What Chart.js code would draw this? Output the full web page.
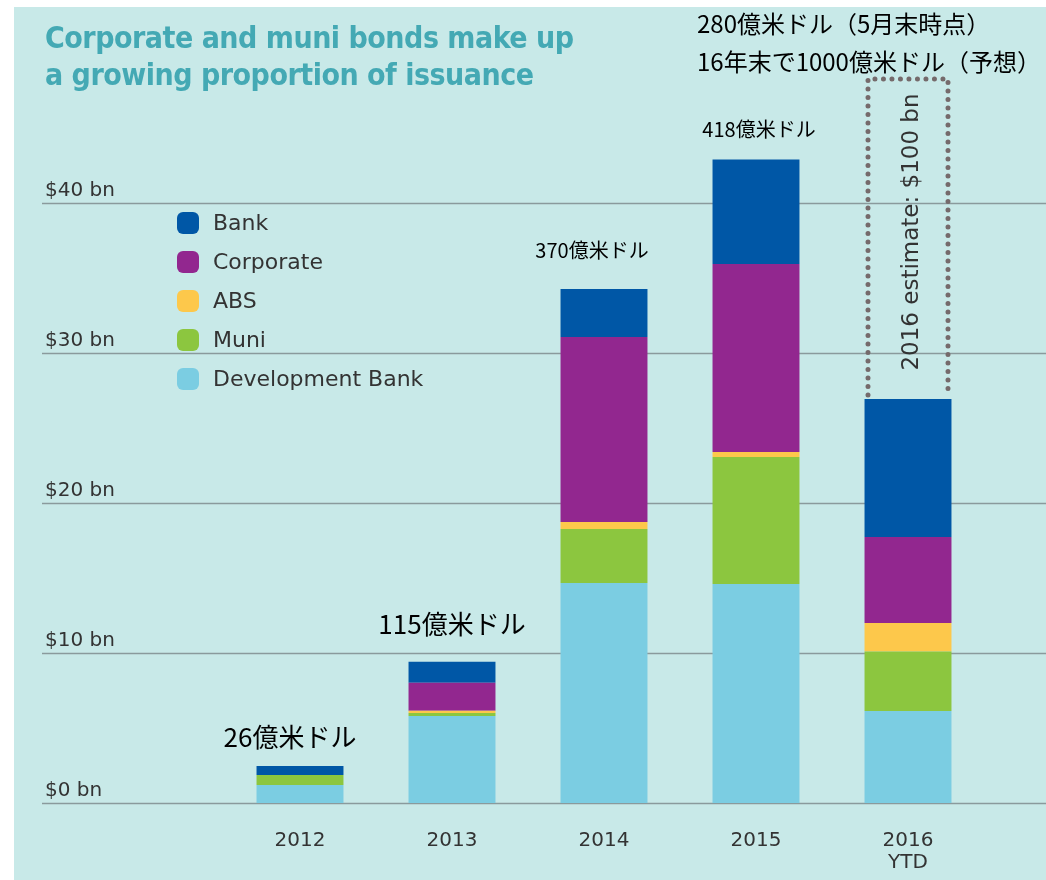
<!DOCTYPE html>
<html>
<head>
<meta charset="utf-8">
<script src="https://cdn.jsdelivr.net/npm/chart.js@4"></script>
<style>
  html, body { margin: 0; padding: 0; background: #fff; }
  #wrap { position: relative; width: 1046px; height: 880px; overflow: hidden; }
  #panel { position: absolute; left: 14px; top: 7px; right: 0; bottom: 0; background: #c8e9e8; }
  #chart { position: absolute; left: 0; top: 0; }
  .title { position: absolute; left: 45px; top: 19px; font-family: "DejaVu Sans Condensed", "DejaVu Sans", sans-serif;
    font-stretch: condensed; font-weight: bold; font-size: 30px; line-height: 37px; color: #44a9b4; letter-spacing: -0.5px; }
  .note { position: absolute; font-family: "Noto Sans CJK JP", sans-serif; color: #000; white-space: nowrap;
    transform: translate(-50%, -50%); }
  .note.left { transform: translate(0, -50%); }
  #legend { position: absolute; left: 177px; top: 203px; font-family: "DejaVu Sans", sans-serif; font-size: 22px; color: #333; }
  #legend div { height: 39px; line-height: 39px; white-space: nowrap; }
  #legend span { display: inline-block; width: 22px; height: 22px; border-radius: 6px; margin-right: 14px; vertical-align: -4px; }
</style>
</head>
<body>
<div id="wrap">
  <div id="panel"></div>
  <canvas id="chart" width="1046" height="880"></canvas>
  <div class="title">Corporate and muni bonds make up<br>a growing proportion of issuance</div>
  <div id="legend"></div>
  <div class="note" style="left:290px; top:735px; font-size:26px;">26億米ドル</div>
  <div class="note" style="left:452px; top:622px; font-size:26px;">115億米ドル</div>
  <div class="note" style="left:592px; top:249px; font-size:20px;">370億米ドル</div>
  <div class="note" style="left:759px; top:128px; font-size:20px;">418億米ドル</div>
  <div class="note left" style="left:697px; top:22px; font-size:24px;">280億米ドル（5月末時点）</div>
  <div class="note left" style="left:697px; top:60px; font-size:24px;">16年末で1000億米ドル（予想）</div>
</div>
<script>
// values in $ bn
const years = ['2012', '2013', '2014', '2015', '2016'];
const xTickLabels = [['2012'], ['2013'], ['2014'], ['2015'], ['2016', 'YTD']];
const yTicks = [0, 10, 20, 30, 40];

const devBank = [1.2, 5.8, 14.67, 14.6, 6.13];
const muni = [0.67, 0.2, 3.6, 8.47, 3.97];
const abs = [0, 0.15, 0.47, 0.33, 1.9];
const corporate = [0, 1.87, 12.33, 12.53, 5.73];
const bank = [0.6, 1.4, 3.2, 6.97, 9.2];

const estimateLabel = '2016 estimate: $100 bn';

const colors = {
  bank: '#0057a6',
  corporate: '#92278f',
  abs: '#fdc84b',
  muni: '#8cc63f',
  devBank: '#7bcde2'
};

// stacked bottom to top
const datasets = [
  { label: 'Development Bank', data: devBank, backgroundColor: colors.devBank },
  { label: 'Muni', data: muni, backgroundColor: colors.muni },
  { label: 'ABS', data: abs, backgroundColor: colors.abs },
  { label: 'Corporate', data: corporate, backgroundColor: colors.corporate },
  { label: 'Bank', data: bank, backgroundColor: colors.bank }
];

// legend, top to bottom
const legendEl = document.getElementById('legend');
datasets.slice().reverse().forEach(ds => {
  const row = document.createElement('div');
  row.innerHTML = '<span style="background:' + ds.backgroundColor + '"></span>' + ds.label;
  legendEl.appendChild(row);
});

const decor = {
  id: 'decor',
  beforeDatasetsDraw(chart) {
    const ctx = chart.ctx;
    const y = chart.scales.y;
    ctx.save();
    ctx.strokeStyle = '#8a9a9c';
    ctx.lineWidth = 1.5;
    ctx.font = '20px "DejaVu Sans", sans-serif';
    ctx.fillStyle = '#333';
    ctx.textAlign = 'left';
    ctx.textBaseline = 'alphabetic';
    yTicks.forEach(v => {
      const py = Math.round(y.getPixelForValue(v)) + 0.5;
      ctx.beginPath();
      ctx.moveTo(42, py);
      ctx.lineTo(chart.width, py);
      ctx.stroke();
      ctx.fillText('$' + v + ' bn', 45, py - 8);
    });
    ctx.restore();
  },
  afterDatasetsDraw(chart) {
    const ctx = chart.ctx;
    const x = chart.scales.x;
    const y = chart.scales.y;
    ctx.save();
    ctx.font = '20px "DejaVu Sans", sans-serif';
    ctx.fillStyle = '#333';
    ctx.textAlign = 'center';
    ctx.textBaseline = 'middle';
    xTickLabels.forEach((lines, i) => {
      const px = x.getPixelForValue(i);
      lines.forEach((t, j) => ctx.fillText(t, px, 841 + j * 22));
    });

    // dotted estimate box above 2016 bar
    const last = years.length - 1;
    const cx = x.getPixelForValue(last);
    const total = devBank[last] + muni[last] + abs[last] + corporate[last] + bank[last];
    const bottom = y.getPixelForValue(total);
    const top = 79;
    ctx.strokeStyle = '#756a6b';
    ctx.lineWidth = 5;
    ctx.lineCap = 'round';
    ctx.setLineDash([0, 8.5]);
    ctx.beginPath();
    ctx.moveTo(cx - 40, bottom - 4);
    ctx.lineTo(cx - 40, top);
    ctx.lineTo(cx + 40, top);
    ctx.lineTo(cx + 40, bottom - 4);
    ctx.stroke();
    ctx.setLineDash([]);

    ctx.translate(cx + 4, (top + bottom) / 2 - 7);
    ctx.rotate(-Math.PI / 2);
    ctx.font = '23px "DejaVu Sans", sans-serif';
    ctx.fillStyle = '#333';
    ctx.fillText(estimateLabel, 0, 0);
    ctx.restore();
  }
};

new Chart(document.getElementById('chart'), {
  type: 'bar',
  data: { labels: years, datasets: datasets },
  options: {
    responsive: false,
    animation: false,
    devicePixelRatio: 1,
    layout: { padding: { left: 224, right: 62, top: 143, bottom: 77 } },
    datasets: { bar: { categoryPercentage: 1, barPercentage: 0.572, borderWidth: 0 } },
    plugins: { legend: { display: false }, tooltip: { enabled: false }, title: { display: false } },
    scales: {
      x: { stacked: true, display: false },
      y: { stacked: true, display: false, min: 0, max: 44 }
    }
  },
  plugins: [decor]
});
</script>
</body>
</html>
